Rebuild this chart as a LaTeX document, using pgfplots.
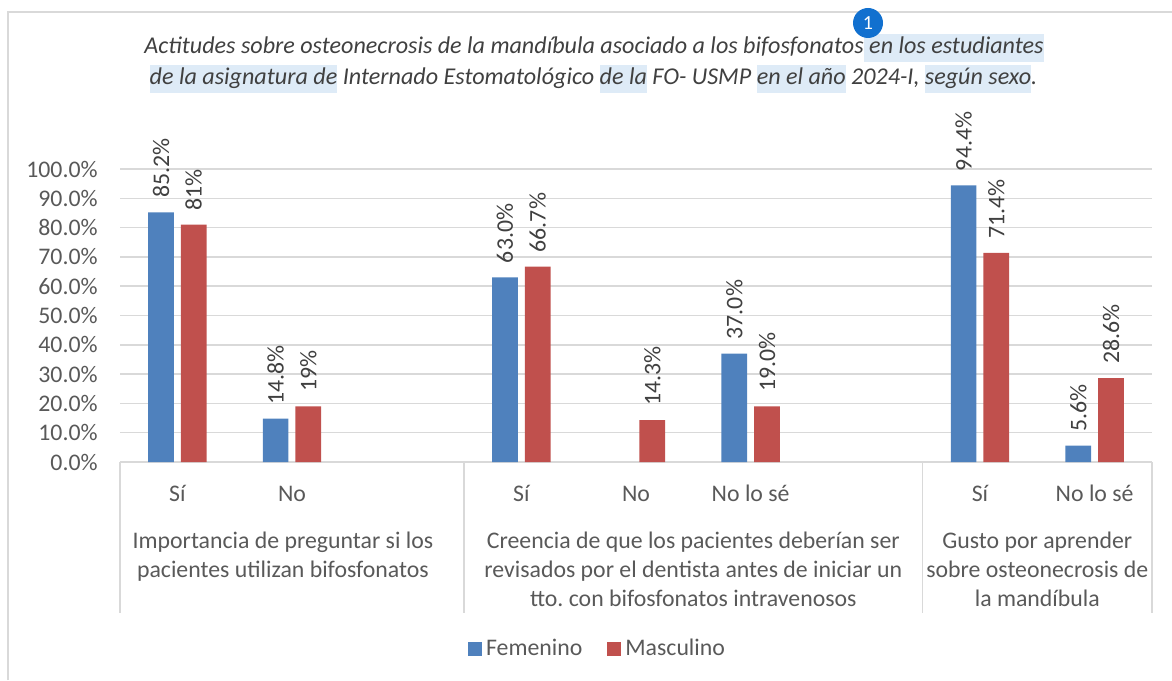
\documentclass[border=0pt]{standalone}
\usepackage{fontspec}
\setmainfont{Carlito}
\usepackage{pgfplots}
\pgfplotsset{compat=1.18}
\frenchspacing
\definecolor{fem}{HTML}{4F81BD}
\definecolor{mas}{HTML}{C0504D}
\definecolor{gridc}{HTML}{D9D9D9}
\definecolor{txt}{HTML}{595959}
\definecolor{ttl}{HTML}{404040}
\definecolor{hl}{HTML}{DEEBF7}
\definecolor{badge}{HTML}{1170CF}
\newcommand{\fs}{\fontsize{11.9}{14}\selectfont}
\newcommand{\ft}{\fontsize{12.05}{14}\selectfont}
\newcommand{\hlt}[1]{{\setlength{\fboxsep}{0pt}\colorbox{hl}{\strut #1}}}
\begin{document}
\begin{tikzpicture}
\path[use as bounding box] (0,0) rectangle (586pt,340pt);
\draw[gridc, line width=1pt] (4pt,0) -- (4pt,334pt) -- (586pt,334pt);
% title
\node[font=\ft\itshape, text=ttl, anchor=base, inner sep=0pt] at (297pt,313pt)
 {Actitudes sobre osteonecrosis de la mandíbula asociado a los bifosfonatos\hlt{ en los estudiantes}};
\node[font=\ft\itshape, text=ttl, anchor=base, inner sep=0pt] at (296.75pt,297.5pt)
 {\hlt{de la asignatura de} Internado Estomatológico \hlt{de la} FO- USMP \hlt{en el año} 2024-I, \hlt{según sexo}.};
\fill[badge] (434pt,328.5pt) circle (7.5pt);
\node[text=white, font=\fontsize{10}{11}\selectfont] at (434pt,328.5pt) {1};
\begin{axis}[
 at={(60pt,109pt)}, anchor=south west,
 scale only axis, width=516pt, height=146.5pt,
 xmin=-0.5, xmax=8.5, ymin=0, ymax=100,
 ybar=3.5pt, bar width=12.85pt,
 axis line style={draw=none},
 major tick length=0pt,
 ymajorgrids, grid style={gridc, line width=0.75pt},
 ytick={0,10,...,100},
 yticklabel={\pgfmathprintnumber[fixed,fixed zerofill,precision=1]{\tick}\%},
 yticklabel style={font=\fs, text=txt, inner xsep=0pt, xshift=-11pt},
 xtick={0,...,8},
 xticklabels={Sí,No,,Sí,No,No lo sé,,Sí,No lo sé},
 xticklabel style={font=\fs, text=txt, anchor=base, yshift=-19.8pt},
 /pgf/number format/assume math mode=true,
 nodes near coords, point meta=explicit symbolic,
 every node near coord/.append style={font=\fs, text=ttl, rotate=90, anchor=west, inner xsep=7pt, inner ysep=0pt},
 clip=false,
 legend columns=2,
 legend style={at={(axis description cs:0.4637,-0.638)}, anchor=center, draw=none, fill=none,
   font=\fs, text=txt, /tikz/every even column/.append style={column sep=10.5pt}},
 every axis plot/.append style={legend image code/.code={\fill[##1] (0pt,-3.5pt) rectangle (7pt,3.5pt);}},
]
\addplot[fill=fem, draw=none] coordinates {(0,85.2)[85.2\%] (1,14.8)[14.8\%] (3,63.0)[63.0\%] (5,37.0)[37.0\%] (7,94.4)[94.4\%] (8,5.6)[5.6\%]};
\addplot[fill=mas, draw=none] coordinates {(0,81)[81\%] (1,19)[19\%] (3,66.7)[66.7\%] (4,14.3)[14.3\%] (5,19.0)[19.0\%] (7,71.4)[71.4\%] (8,28.6)[28.6\%]};
\legend{Femenino,Masculino}
\draw[gridc, line width=0.75pt] (axis cs:-0.5,0) -- ([yshift=-75.5pt]axis cs:-0.5,0);
\draw[gridc, line width=0.75pt] (axis cs:2.5,0) -- ([yshift=-75.5pt]axis cs:2.5,0);
\draw[gridc, line width=0.75pt] (axis cs:6.5,0) -- ([yshift=-75.5pt]axis cs:6.5,0);
\draw[gridc, line width=0.75pt] (axis cs:8.5,0) -- ([yshift=-75.5pt]axis cs:8.5,0);
\tikzset{glab/.style={font=\fs, text=txt, anchor=base, inner sep=0pt}}
\node[glab] at ([yshift=-43pt]axis cs:0.921,0) {Importancia de preguntar si los};
\node[glab] at ([yshift=-57.5pt]axis cs:0.921,0) {pacientes utilizan bifosfonatos};
\node[glab] at ([yshift=-43pt]axis cs:4.5,0) {Creencia de que los pacientes deberían ser};
\node[glab] at ([yshift=-57.5pt]axis cs:4.5,0) {revisados por el dentista antes de iniciar un};
\node[glab] at ([yshift=-72.25pt]axis cs:4.5,0) {tto. con bifosfonatos intravenosos};
\node[glab] at ([yshift=-43pt]axis cs:7.5,0) {Gusto por aprender};
\node[glab] at ([yshift=-57.5pt]axis cs:7.5,0) {sobre osteonecrosis de};
\node[glab] at ([yshift=-72.25pt]axis cs:7.5,0) {la mandíbula};
\end{axis}
\end{tikzpicture}
\end{document}
